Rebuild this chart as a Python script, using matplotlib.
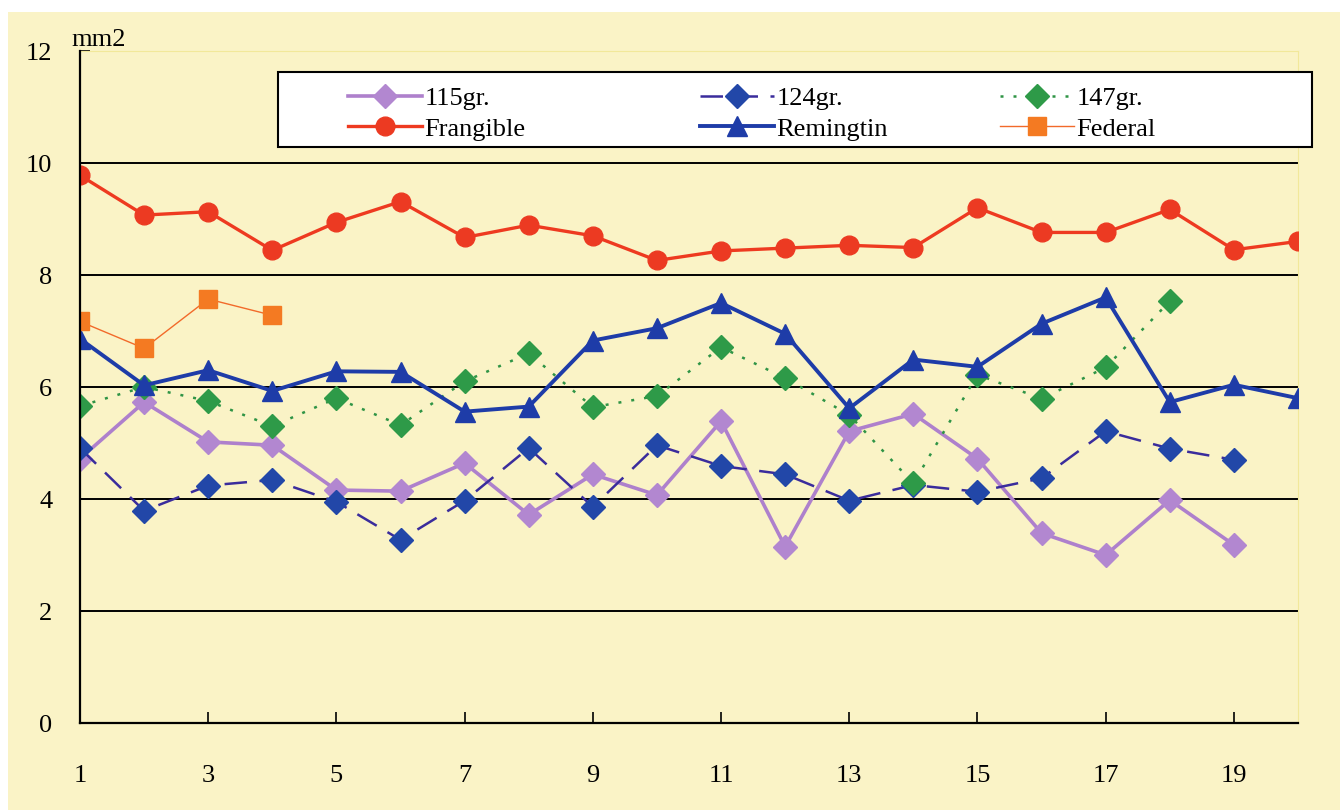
import matplotlib
matplotlib.use("Agg")
import matplotlib.pyplot as plt
from matplotlib.patches import Rectangle

plt.rcParams['font.family'] = ['Liberation Serif', 'DejaVu Serif']

x = list(range(1, 21))
gr115 = [4.72, 5.73, 5.02, 4.96, 4.16, 4.14, 4.64, 3.72, 4.44, 4.07,
         5.39, 3.15, 5.21, 5.52, 4.72, 3.39, 3.00, 3.98, 3.18]
gr124 = [4.91, 3.79, 4.24, 4.34, 3.95, 3.27, 3.97, 4.91, 3.86, 4.96,
         4.59, 4.44, 3.97, 4.25, 4.13, 4.37, 5.21, 4.90, 4.70]
gr147 = [5.66, 6.00, 5.75, 5.30, 5.80, 5.32, 6.10, 6.60, 5.64, 5.84,
         6.71, 6.16, 5.50, 4.28, 6.22, 5.79, 6.35, 7.53]
frangible = [9.78, 9.07, 9.13, 8.44, 8.94, 9.31, 8.67, 8.89, 8.70, 8.26,
             8.43, 8.48, 8.53, 8.49, 9.20, 8.76, 8.76, 9.17, 8.45, 8.60]
remingtin = [6.86, 6.03, 6.30, 5.93, 6.28, 6.27, 5.56, 5.65, 6.83, 7.05,
             7.50, 6.95, 5.62, 6.49, 6.36, 7.13, 7.60, 5.73, 6.04, 5.80]
federal = [7.17, 6.69, 7.57, 7.28]

xticks = [1, 3, 5, 7, 9, 11, 13, 15, 17, 19]
yticks = [0, 2, 4, 6, 8, 10, 12]

W, H = 1340, 810
fig = plt.figure(figsize=(W / 100, H / 100), dpi=100, facecolor='white')
bg = '#FAF3C6'
rect = Rectangle((8 / W, 0), (W - 8) / W, (H - 12) / H,
                 transform=fig.transFigure, facecolor=bg,
                 edgecolor='none', zorder=-10)
fig.add_artist(rect)

AX_L, AX_T, AX_W, AX_H = 80, 51, 1218, 672
ax = fig.add_axes([AX_L / W, 1 - (AX_T + AX_H) / H, AX_W / W, AX_H / H])
ax.set_zorder(1)
ax.set_facecolor(bg)
ax.set_xlim(1, 20)
ax.set_ylim(0, 12)


def axfrac(px, py):
    return (px - AX_L) / AX_W, (AX_T + AX_H - py) / AX_H


for g in [2, 4, 6, 8, 10]:
    ax.axhline(g, color='black', lw=1.4, zorder=1)

l115, = ax.plot(x[:len(gr115)], gr115, color='#AE80CC', lw=2.6, marker='D',
                ms=12.5, mfc='#B287D0', mec='#B287D0', zorder=3, label='115gr.')
l124, = ax.plot(x[:len(gr124)], gr124, color='#3A2C9C', lw=1.8,
                dashes=(9, 5), marker='D', ms=12.5, mfc='#2247A8', mec='#2247A8',
                zorder=3, label='124gr.')
l147, = ax.plot(x[:len(gr147)], gr147, color='#2F9445', lw=1.8,
                dashes=(1.2, 4), marker='D', ms=12.5, mfc='#2E9A48', mec='#2E9A48',
                zorder=3, label='147gr.')
lfr, = ax.plot(x[:len(frangible)], frangible, color='#EE3A20', lw=2.4,
               marker='o', ms=13.5, mfc='#EC3A22', mec='#EC3A22', zorder=4,
               label='Frangible')
lre, = ax.plot(x[:len(remingtin)], remingtin, color='#1E3CA8', lw=2.8,
               marker='^', ms=14, mfc='#1E3CA8', mec='#1E3CA8', zorder=4,
               label='Remingtin')
lfe, = ax.plot(x[:len(federal)], federal, color='#F26A2A', lw=1.0,
               marker='s', ms=13, mfc='#F47A22', mec='#F47A22', zorder=4,
               label='Federal')

for s in ['top', 'right']:
    ax.spines[s].set_color('#F2E89A')
    ax.spines[s].set_linewidth(0.8)
for s in ['left', 'bottom']:
    ax.spines[s].set_color('black')
    ax.spines[s].set_linewidth(1.6)
ax.spines['left'].set_zorder(5)
ax.spines['bottom'].set_zorder(5)

ax.set_xticks(xticks)
ax.set_xticklabels([str(t) for t in xticks])
ax.set_yticks(yticks)
ax.set_yticklabels([str(t) for t in yticks])
ax.tick_params(axis='x', direction='in', length=8, width=1.2, pad=30,
               labelsize=19, color='black')
ax.tick_params(axis='y', direction='in', length=7, width=1.2, pad=20,
               labelsize=19, color='black')

ax.text(-0.007, 1.0, 'mm2', transform=ax.transAxes, ha='left', va='bottom',
        fontsize=19)

# legend frame
fx0, fy0 = axfrac(278, 147)
fx1, fy1 = axfrac(1312, 72)
frame = Rectangle((fx0, fy0), fx1 - fx0, fy1 - fy0, transform=ax.transAxes,
                  facecolor='white', edgecolor='black', lw=1.5, zorder=6,
                  clip_on=False)
ax.add_patch(frame)

columns = [([l115, lfr], 348), ([l124, lre], 700), ([l147, lfe], 1000)]
legs = []
for hs, px in columns:
    lx, ly = axfrac(px, 87)
    leg = ax.legend(handles=hs, loc='upper left', bbox_to_anchor=(lx, ly),
                    frameon=False, fontsize=19, handlelength=2.8,
                    handletextpad=0.1, borderpad=0, borderaxespad=0,
                    labelspacing=0.25)
    leg.set_zorder(7)
    legs.append(leg)
for leg in legs[:-1]:
    ax.add_artist(leg)

fig.savefig('out.png', dpi=100, facecolor='white')
